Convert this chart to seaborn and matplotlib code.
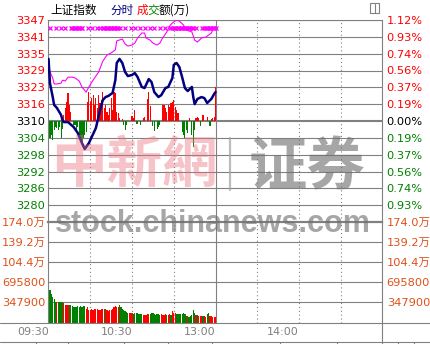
import numpy as np
import matplotlib
matplotlib.use("Agg")
import matplotlib.pyplot as plt
import seaborn as sns
from matplotlib.transforms import blended_transform_factory
from matplotlib.lines import Line2D
from matplotlib.patches import Rectangle

# ---------------- data ----------------
base_price = 3310.3
pct_step = 0.1867          # percent per grid step
left_price_labels = ["3347", "3341", "3335", "3329", "3323", "3316", "3310",
                     "3304", "3298", "3292", "3286", "3280", ""]
right_pct_labels = ["1.12%", "0.93%", "0.74%", "0.56%", "0.37%", "0.19%", "0.00%",
                    "0.19%", "0.37%", "0.56%", "0.74%", "0.93%", ""]
vol_ticks = [0, 347900, 695800, 1043700, 1391600, 1739500]
vol_labels = ["", "347900", "695800", "104.4万", "139.2万", "174.0万"]
time_ticks = [0, 60, 120, 180]
time_labels = ["09:30", "10:30", "13:00", "14:00"]
halfhour_dotted = [30, 60, 90, 150, 180, 210]
midday = 120

price_minutes = [0, 1, 3, 4, 6, 9, 10, 11, 14, 18, 21, 24, 26, 29, 31, 34, 35, 37, 39, 41,
                 43, 46, 48, 49, 51, 53, 55, 57, 60, 62, 64, 67, 69, 72, 74, 76, 79, 81, 84, 86,
                 89, 90, 92, 94, 96, 98, 100, 103, 104, 105, 107, 110, 112, 114, 117, 119, 120]
price_values = [3333.1, 3324.2, 3319.1, 3316.2, 3315.1, 3312.5, 3310.7, 3309.9, 3309.9, 3308.1,
                3305.9, 3302.2, 3300.0, 3302.2, 3304.4, 3307.7, 3309.9, 3314.3, 3318.0, 3319.1,
                3319.5, 3320.6, 3325.3, 3331.6, 3333.1, 3331.6, 3328.3, 3326.8, 3327.2, 3327.9,
                3326.4, 3322.8, 3322.4, 3325.7, 3324.6, 3320.9, 3319.1, 3319.8, 3322.4, 3322.8,
                3326.1, 3330.9, 3331.6, 3330.1, 3326.4, 3322.4, 3321.3, 3322.8, 3319.1, 3316.5,
                3318.4, 3319.1, 3318.7, 3316.9, 3318.4, 3320.2, 3320.9]

avg_minutes = [0, 1, 3, 4, 6, 9, 10, 12, 14, 17, 19, 22, 24, 27, 29, 32, 36, 39, 42, 45,
               48, 49, 53, 55, 57, 60, 62, 64, 67, 69, 70, 73, 75, 78, 80, 82, 85, 87, 89, 92,
               94, 97, 99, 103, 105, 107, 110, 113, 117, 119]
avg_values = [3330.9, 3328.3, 3326.1, 3323.9, 3323.9, 3324.2, 3325.3, 3325.0, 3326.4, 3326.4,
              3326.1, 3325.0, 3322.8, 3320.9, 3322.8, 3325.3, 3328.3, 3332.3, 3334.5, 3335.3,
              3336.4, 3339.7, 3340.4, 3338.6, 3337.8, 3338.2, 3338.9, 3340.8, 3342.6, 3342.6,
              3340.8, 3340.0, 3338.9, 3338.2, 3338.9, 3340.8, 3343.0, 3345.2, 3346.3, 3347.4,
              3347.0, 3345.5, 3343.7, 3343.0, 3340.0, 3339.3, 3340.8, 3341.1, 3342.6, 3344.8]

# leading indicator bars (index points above / below the previous close), one per minute
lead_values = [1.1, -6.2, -5.1, -7.0, -3.3, -2.2, -2.6, -3.3, -2.2, -6.2,
               -2.9, 2.2, 4.8, 7.0, 10.3, 5.9, 3.3, 0, -1.5, -1.5,
               -4.0, -2.2, -5.1, -7.0, -7.7, -6.2, -5.1, -4.0, 7.0, 10.6,
               7.0, 8.4, 9.5, 5.9, 8.4, 4.8, 9.5, 6.6, 7.7, 10.6,
               4.8, 5.9, 3.3, 2.2, 4.8, 8.4, 4.0, 10.6, 10.3, 3.3,
               2.9, 1.1, 0, 0.7, -1.5, -3.3, -1.5, 0, 0, 0,
               1.8, 1.1, 4.0, -1.1, -1.1, 0, -1.5, 0, 1.1, 1.5,
               0, 8.1, 10.6, 5.5, 0, -1.8, -3.7, 0, -2.9, -2.2,
               -1.5, 0, 5.9, 5.9, 4.8, 3.3, 5.9, 5.1, 6.6, 7.0,
               7.7, 5.1, 4.0, 2.9, 0, 0, -4.0, -5.1, -6.2, -3.3,
               -4.4, 1.1, 0, -5.1, -9.5, -3.3, 1.1, 1.5, 1.1, -1.8,
               0, 2.2, 0, 0, 1.5, 0, -1.8, 0.7, 1.1, 1.5,
               12.5]

# turnover per minute, in 万 (10k)
volume_wan = [160, 56, 49, 45, 40, 36, 36, 36, 36, 36, 36,
              34, 31, 30, 30, 31, 30, 28, 27, 26, 27,
              28, 27, 28, 27, 28, 28, 24, 26, 22, 21,
              24, 21, 23, 23, 23, 21, 22, 23, 23, 24,
              23, 22, 20, 21, 22, 24, 27, 28, 27, 27,
              31, 27, 24, 21, 20, 19, 17, 17, 17, 17,
              15, 16, 17, 16, 15, 15, 14, 13, 13, 13,
              14, 14, 15, 17, 16, 14, 13, 14, 15, 13,
              14, 13, 13, 14, 13, 13, 14, 13, 20, 17,
              16, 15, 14, 14, 15, 15, 16, 14, 12, 12,
              10, 12, 13, 21, 17, 13, 13, 12, 12, 12,
              12, 11, 10, 14, 16, 12, 11, 10, 10, 10]
volume_dir = ("r" "ggggg" "r" "gggg" "rrrr" "gggggggggggg" "rrrrrrrrrrrrr" "g" "rrrrrrrrrr"
              "ggggggg" "rrr" "ggggggg" "rrrrr" "gggggggg" "rrrr" "g" "rr" "g" "rrr"
              "gggggggg" "r" "ggggg" "r" "g" "rrr" "g" "rr" "gg" "rrrrr")

marker_minutes = [1, 5, 9, 12, 16, 17, 18, 19, 20, 21, 22, 23, 24, 28, 31, 35, 37,
                  39, 40, 41, 42, 43, 44, 45, 46, 47, 48, 49, 50, 51,
                  55, 59, 62, 66, 69, 73, 76, 80, 84, 87,
                  89, 90, 91, 92, 93, 94, 95, 96, 97, 98, 99, 100, 101, 102, 103, 104,
                  106, 110, 112, 113, 114, 115, 116, 117, 118, 119, 120]

# ---------------- style ----------------
sns.set_style("white")
plt.rcParams["font.family"] = ["DejaVu Sans", "Noto Sans CJK SC"]
RED, GREEN, NAVY, MAG = "#FF0000", "#008000", "#000080", "#FF00FF"
GRID = "#808080"
VOLC = "#E0501A"
FS = 8.2

W, H = 431, 344
fig = plt.figure(figsize=(W / 100, H / 100), dpi=100)
fig.patch.set_facecolor("white")


def fx(px):
    return px / W


def fy(py):
    return 1 - py / H


L, R, T, MID, B = 48, 382.5, 20, 222, 322.5
ax_p = fig.add_axes([fx(L), fy(MID), fx(R) - fx(L), fy(T) - fy(MID)])
ax_v = fig.add_axes([fx(L), fy(B), fx(R) - fx(L), fy(MID) - fy(B)])

minutes = np.arange(len(volume_wan))
xlim = (-0.4, 240)

# ---- price panel ----
ks = np.arange(6, -7, -1)
price_ticks = base_price * (1 + ks * pct_step / 100)
ax_p.set_ylim(price_ticks[-1], price_ticks[0])
ax_p.set_xlim(*xlim)
for k, yv in zip(ks, price_ticks):
    if k == 0:
        ax_p.axhline(yv, color=GRID, lw=1.5, zorder=1)
    else:
        ax_p.axhline(yv, color=GRID, lw=0.8, zorder=1)
for m in halfhour_dotted:
    ax_p.axvline(m, color=GRID, lw=0.8, ls=(0, (1, 2.5)), zorder=1)
    ax_v.axvline(m, color=GRID, lw=0.8, ls=(0, (1, 2.5)), zorder=1)
ax_p.axvline(midday, color=GRID, lw=0.8, zorder=1)
ax_v.axvline(midday, color=GRID, lw=0.8, zorder=1)

lead = np.array(lead_values)
ax_p.bar(minutes, lead, bottom=base_price, width=0.8,
         color=[RED if v > 0 else GREEN for v in lead], linewidth=0, zorder=2,
         antialiased=False)

sns.lineplot(x=avg_minutes, y=avg_values, ax=ax_p, color=MAG, lw=0.8,
             estimator=None, sort=False, zorder=3)
sns.lineplot(x=price_minutes, y=price_values, ax=ax_p, color=NAVY, lw=1.8,
             estimator=None, sort=False, zorder=4)

trans = blended_transform_factory(ax_p.transData, ax_p.transAxes)
ax_p.plot(marker_minutes, [0.96] * len(marker_minutes), transform=trans, ls="none",
          marker="x", ms=3.2, mew=0.9, color=MAG, zorder=5, clip_on=False)

ax_p.set_yticks(price_ticks)
ax_p.set_yticklabels(left_price_labels)
ax_p.tick_params(axis="y", length=0, pad=2, labelsize=FS)
ax_p.set_xticks([])
ax_p.set_xlabel("")
ax_p.set_ylabel("")
for k, lab in zip(ks, ax_p.get_yticklabels()):
    lab.set_color(RED if k > 0 else (GREEN if k < 0 else "black"))

ax_pr = ax_p.twinx()
ax_pr.set_ylim(ax_p.get_ylim())
ax_pr.set_yticks(price_ticks)
ax_pr.set_yticklabels(right_pct_labels)
ax_pr.tick_params(axis="y", length=0, pad=3, labelsize=FS)
for k, lab in zip(ks, ax_pr.get_yticklabels()):
    lab.set_color(RED if k > 0 else (GREEN if k < 0 else "black"))

for a in (ax_p, ax_pr):
    for s in a.spines.values():
        s.set_visible(False)
for side in ("top", "left", "right"):
    ax_p.spines[side].set_visible(True)
    ax_p.spines[side].set_color(GRID)
    ax_p.spines[side].set_linewidth(0.8)

# ---- volume panel ----
vol = np.array(volume_wan) * 10000
ax_v.set_xlim(*xlim)
ax_v.set_ylim(0, vol_ticks[-1])
for yv in vol_ticks[1:-1]:
    ax_v.axhline(yv, color=GRID, lw=0.8, zorder=1)
ax_v.bar(minutes, vol, width=0.85,
         color=[RED if c == "r" else GREEN for c in volume_dir], linewidth=0, zorder=2,
         antialiased=False)
ax_v.set_yticks(vol_ticks)
ax_v.set_yticklabels(vol_labels)
ax_v.tick_params(axis="y", length=0, pad=2, labelsize=FS, colors=VOLC)
ax_v.set_xticks(time_ticks)
ax_v.set_xticklabels(time_labels)
ax_v.tick_params(axis="x", length=0, pad=3.5, labelsize=8, colors="#808080")
for lab in ax_v.get_xticklabels():
    lab.set_ha("right")

ax_vr = ax_v.twinx()
ax_vr.set_ylim(ax_v.get_ylim())
ax_vr.set_yticks(vol_ticks)
ax_vr.set_yticklabels(vol_labels)
ax_vr.tick_params(axis="y", length=0, pad=3, labelsize=FS, colors=VOLC)
for s in ax_vr.spines.values():
    s.set_visible(False)
for side, s in ax_v.spines.items():
    s.set_color(GRID)
    s.set_linewidth(0.8)
ax_v.spines["top"].set_linewidth(1.6)
ax_v.spines["bottom"].set_visible(False)

# ---- frame pieces outside the axes ----
fig.add_artist(Line2D([0, 1], [fy(322.5), fy(322.5)], color=GRID, lw=0.8))
fig.add_artist(Line2D([0, 1], [fy(342), fy(342)], color=GRID, lw=0.8))
fig.add_artist(Line2D([fx(R), fx(R)], [fy(344), fy(322)], color=GRID, lw=0.8))
for px in (36, 68, 124, 168, 212, 280, 337, 398, 414):
    fig.add_artist(Line2D([fx(px), fx(px)], [fy(344), fy(342)], color=GRID, lw=0.8))

# title
title_parts = [("上证指数", 50, "black"), ("分时", 110, NAVY), ("成", 136.5, RED),
               ("交", 147.5, GREEN), ("额(万)", 158.5, "black")]
for txt, px, col in title_parts:
    fig.text(fx(px), fy(10), txt, color=col, fontsize=8.4, ha="left", va="center",
             family=["Noto Sans CJK SC", "DejaVu Sans"])

# small window icon top right
fig.add_artist(Rectangle((fx(370.5), fy(12.5)), 9 / W, 9 / H, transform=fig.transFigure,
                         fill=False, edgecolor=GRID, lw=0.8))
fig.add_artist(Line2D([fx(375), fx(375)], [fy(12.5), fy(3.5)], color=GRID, lw=0.8))

# watermark
fig.text(fx(51), fy(166), "中新網", fontsize=40, color="#E8707C", alpha=0.42,
         family="Noto Sans CJK TC", weight="bold", ha="left", va="center", zorder=10)
fig.add_artist(Line2D([fx(230), fx(230)], [fy(190), fy(138)], color="#A0A0A0", lw=1.6,
                      alpha=0.7, zorder=10))
fig.text(fx(249), fy(168), "证券", fontsize=42, color="#707070", alpha=0.62,
         family="Noto Sans CJK SC", weight="bold", ha="left", va="center", zorder=10)
fig.text(fx(55), fy(232), "stock.chinanews.com", fontsize=22, color="#707070", alpha=0.62,
         family="Liberation Sans", weight="bold", ha="left", va="baseline", zorder=10)

fig.savefig("out.png", dpi=100, facecolor="white")
